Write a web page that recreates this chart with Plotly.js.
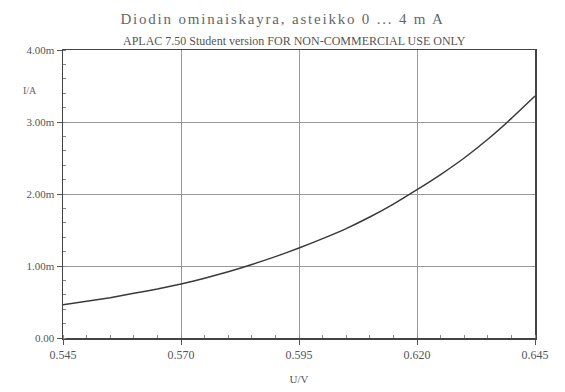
<!DOCTYPE html>
<html>
<head>
<meta charset="utf-8">
<script src="https://cdn.plot.ly/plotly-3.0.1.min.js"></script>
<style>
body{margin:0;padding:0;background:#fff;}
.gtitle{letter-spacing:1.8px;}
</style>
</head>
<body>
<div id="chart" style="width:565px;height:392px;"></div>
<script>
// Diode forward voltage (V)
var voltage = [0.545,0.550,0.555,0.560,0.565,0.570,0.575,0.580,0.585,0.590,0.595,0.600,0.605,0.610,0.615,0.620,0.625,0.630,0.635,0.640,0.645];
// Diode current (mA)
var currentmA = [0.46,0.51,0.56,0.62,0.68,0.75,0.83,0.92,1.02,1.13,1.25,1.38,1.52,1.68,1.86,2.06,2.27,2.50,2.76,3.05,3.36];
var xTicks = [0.545,0.570,0.595,0.620,0.645];
var xTickText = ['0.545','0.570','0.595','0.620','0.645'];
var yTicks = [0,1,2,3,4];
var yTickText = ['0.00','1.00m','2.00m','3.00m','4.00m'];

var fontFam = 'Liberation Serif, DejaVu Serif, serif';
var grey = '#555';

var trace = {
  x: voltage, y: currentmA, type: 'scatter', mode: 'lines',
  line: {color: '#3a3a3a', width: 1.5, shape: 'spline', smoothing: 0.6},
  hoverinfo: 'skip'
};

var layout = {
  width: 565, height: 392,
  margin: {l: 63, r: 30, t: 50, b: 54},
  paper_bgcolor: '#fff', plot_bgcolor: '#fff',
  showlegend: false,
  title: {text: 'Diodin ominaiskayra, asteikko 0 ... 4 m A', x: 0.5, xanchor: 'center', y: 0.953, yanchor: 'middle',
          font: {family: fontFam, size: 15, color: '#666'}},
  xaxis: {
    range: [0.545, 0.645], tickvals: xTicks, ticktext: xTickText,
    showgrid: true, gridcolor: '#9a9a9a', gridwidth: 1,
    showline: true, linecolor: '#444', linewidth: 1.5, mirror: true,
    ticks: 'outside', ticklen: 5, tickcolor: '#555',
    minor: {dtick: 0.005, ticks: 'inside', ticklen: 3, tickcolor: '#888', showgrid: false},
    zeroline: false,
    tickfont: {family: fontFam, size: 12, color: grey},
    title: {text: 'U/V', font: {family: fontFam, size: 11, color: grey}, standoff: 14}
  },
  yaxis: {
    range: [0, 4], tickvals: yTicks, ticktext: yTickText,
    showgrid: true, gridcolor: '#9a9a9a', gridwidth: 1,
    showline: true, linecolor: '#444', linewidth: 1.5, mirror: true,
    ticks: 'outside', ticklen: 5, tickcolor: '#555',
    minor: {dtick: 0.2, ticks: 'inside', ticklen: 3, tickcolor: '#888', showgrid: false},
    zeroline: false,
    tickfont: {family: fontFam, size: 11, color: grey},
    title: {text: ''}
  },
  annotations: [
    {text: 'APLAC 7.50 Student version FOR NON-COMMERCIAL USE ONLY', xref: 'paper', yref: 'paper',
     x: 0.49, y: 1.0, xanchor: 'center', yanchor: 'bottom', showarrow: false,
     font: {family: fontFam, size: 12, color: '#555'}},
    {text: 'I/A', xref: 'paper', yref: 'paper', x: -0.09, y: 0.86, xanchor: 'left', yanchor: 'middle',
     showarrow: false, font: {family: fontFam, size: 10, color: '#666'}}
  ]
};

Plotly.newPlot('chart', [trace], layout, {displayModeBar: false, staticPlot: true});
</script>
</body>
</html>
